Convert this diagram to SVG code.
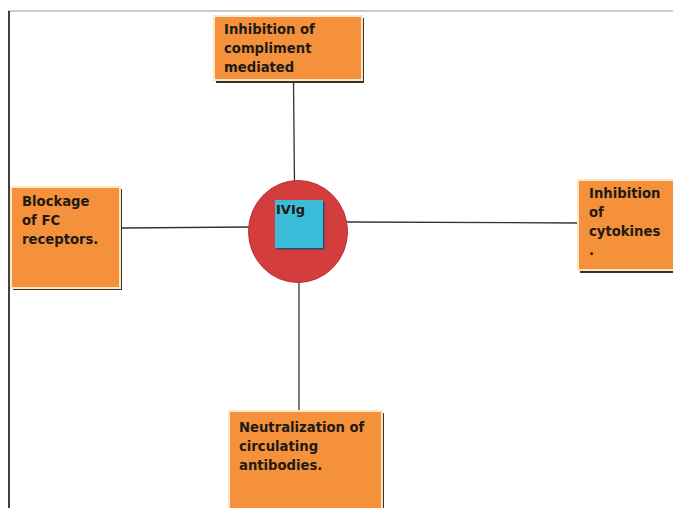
<svg xmlns="http://www.w3.org/2000/svg" width="673" height="508" viewBox="0 0 673 508">
<defs>
<style>
.box{fill:#F5913A;stroke:#FCE6C8;stroke-width:2}
.sh{fill:#3a3028}
.t{font-family:"DejaVu Sans",Verdana,sans-serif;font-weight:bold;font-size:13.2px;fill:#1e1a16}
.c{stroke:#333;stroke-width:1.3;fill:none}
</style>
</defs>
<rect width="673" height="508" fill="#fff"/>
<g id="frame">
<line x1="8" y1="11" x2="673" y2="11" stroke="#9a9a9a" stroke-width="1.2"/>
<line x1="9" y1="11" x2="9" y2="508" stroke="#111" stroke-width="1.6"/>
</g>
<g id="connectors">
<line class="c" x1="293.5" y1="81" x2="294.5" y2="185"/>
<line class="c" x1="121" y1="228" x2="251" y2="227"/>
<line class="c" x1="346" y1="222" x2="578" y2="223"/>
<line class="c" x1="299" y1="281" x2="299" y2="411"/>
</g>
<g id="n-top">
<rect class="sh" x="216" y="18" width="148" height="65"/>
<rect class="box" x="214" y="16" width="148" height="64"/>
<text class="t"><tspan x="224" y="34">Inhibition of</tspan><tspan x="224" y="53">compliment</tspan><tspan x="224" y="72">mediated</tspan></text>
</g>
<g id="n-left">
<rect class="sh" x="13" y="189" width="109" height="101"/>
<rect class="box" x="11" y="187" width="109" height="101"/>
<text class="t"><tspan x="22" y="206">Blockage</tspan><tspan x="22" y="225">of FC</tspan><tspan x="22" y="244">receptors.</tspan></text>
</g>
<g id="n-right">
<rect class="sh" x="580" y="182" width="100" height="91"/>
<rect class="box" x="578" y="180" width="100" height="90"/>
<text class="t"><tspan x="589" y="198">Inhibition</tspan><tspan x="589" y="217">of</tspan><tspan x="589" y="236">cytokines</tspan><tspan x="589" y="255">.</tspan></text>
</g>
<g id="n-bottom">
<rect class="sh" x="231" y="413" width="153" height="100"/>
<rect class="box" x="229" y="411" width="153" height="100"/>
<text class="t"><tspan x="239" y="432">Neutralization of</tspan><tspan x="239" y="451">circulating</tspan><tspan x="239" y="470">antibodies.</tspan></text>
</g>
<g id="n-center">
<ellipse cx="298" cy="231.5" rx="49.5" ry="51" fill="#D43D3D" stroke="#b83232" stroke-width="1"/>
<rect x="276.5" y="201.5" width="48" height="48" fill="#2f4a6a"/>
<rect x="275" y="200" width="48" height="48" fill="#3BBCD9"/>
<text class="t" x="276" y="214" style="font-size:13px">IVIg</text>
</g>
</svg>
